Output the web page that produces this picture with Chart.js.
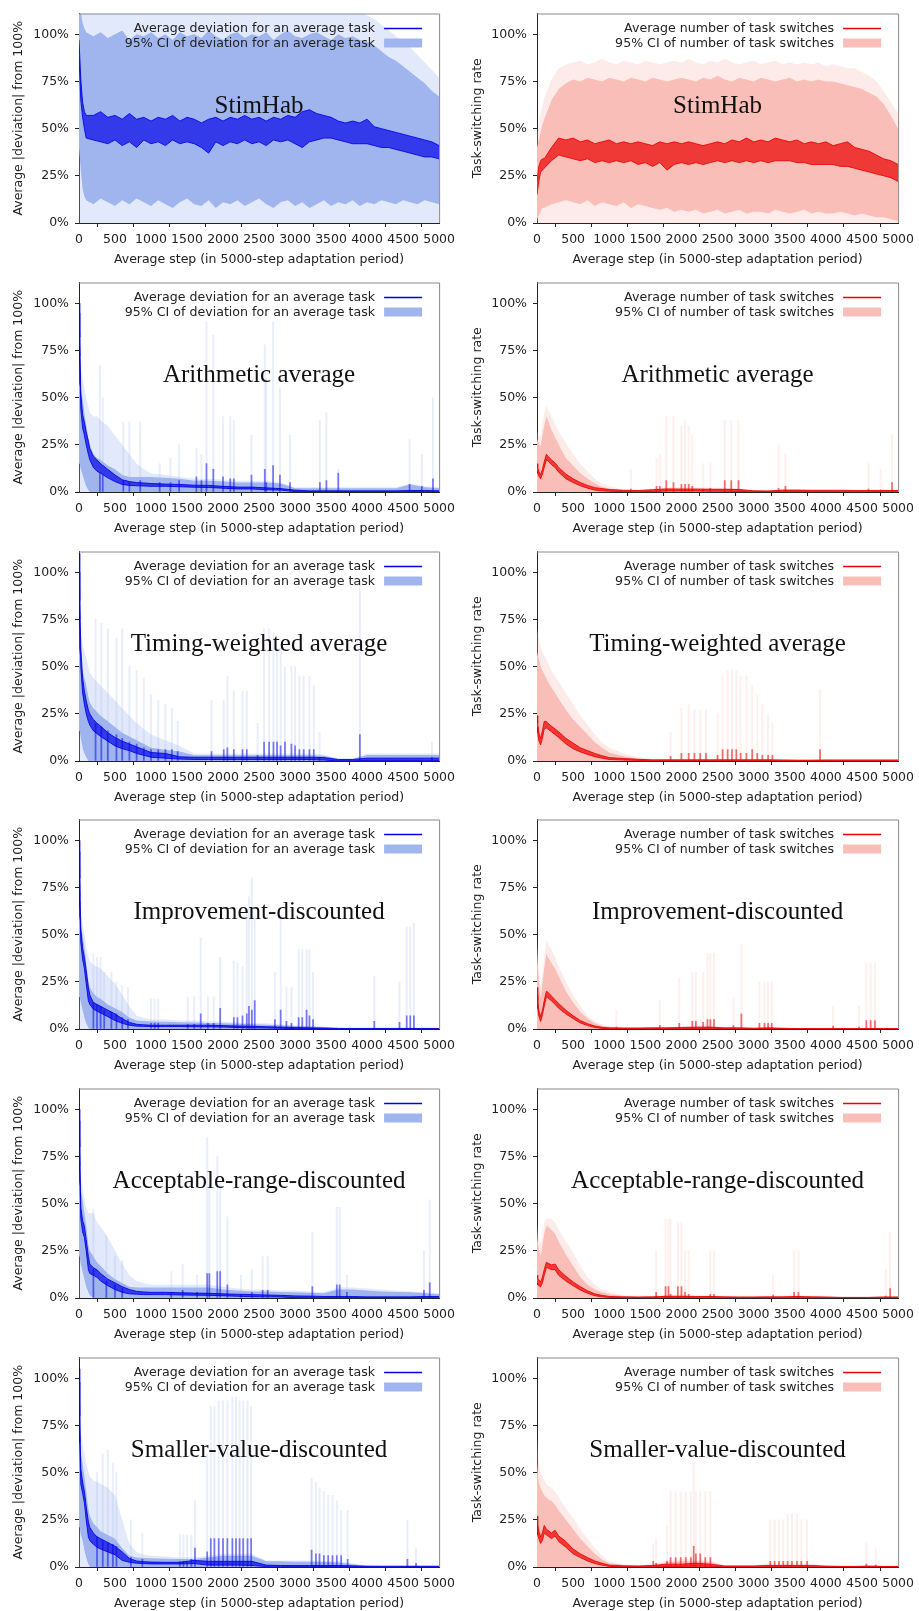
<!DOCTYPE html>
<html>
<head>
<meta charset="utf-8">
<script src="https://cdn.jsdelivr.net/npm/chart.js@4.4.0/dist/chart.umd.min.js"></script>
<style>
  body { margin: 0; background: #fff; }
  #fig { position: relative; width: 919px; height: 1611px; overflow: hidden; }
  #fig canvas { position: absolute; }
</style>
</head>
<body>
<div id="fig"></div>
<script>
// ---- axes ----
const xTickValues = [0, 500, 1000, 1500, 2000, 2500, 3000, 3500, 4000, 4500, 5000];
const yTickValues = [0, 25, 50, 75, 100];
const xTitle = "Average step (in 5000-step adaptation period)";
const devTitle = "Average |deviation| from 100%";
const swTitle = "Task-switching rate";
const devLegend = ["Average deviation for an average task", "95% CI of deviation for an average task"];
const swLegend = ["Average number of task switches", "95% CI of number of task switches"];
const panelTitles = ["StimHab", "Arithmetic average", "Timing-weighted average",
  "Improvement-discounted", "Acceptable-range-discounted", "Smaller-value-discounted"];

// x positions used by the StimHab rows (dense) and the other rows
const stepsDense = [0, 25, 50, 75, 100, 200, 300, 400, 500, 600, 700, 800, 900, 1000,
  1100, 1200, 1300, 1400, 1500, 1600, 1700, 1800, 1900, 2000, 2100, 2200, 2300, 2400, 2500,
  2600, 2700, 2800, 2900, 3000, 3100, 3200, 3300, 3400, 3500, 3600, 3700, 3800, 3900, 4000,
  4100, 4200, 4300, 4400, 4500, 4600, 4700, 4800, 4900, 5000];
const steps = [0, 10, 25, 50, 75, 100, 130, 150, 200, 250, 300, 400, 500, 600, 700, 800, 900, 1000,
  1200, 1400, 1600, 1800, 2000, 2200, 2400, 2600, 2800, 3000, 3200, 3400, 3600, 3800, 4000,
  4200, 4400, 4600, 4800, 5000];

// ---- StimHab, deviation ----
const stimDevMeanHi = [97, 76, 64, 59, 57, 57, 59, 56, 57, 55, 58, 55, 56, 54, 56, 55, 57, 54, 56, 55, 53, 55, 56, 54,
  56, 55, 57, 55, 56, 54, 56, 55, 57, 56, 59, 60, 58, 57, 56, 54, 53, 54, 53, 55, 51, 50, 49, 48, 47, 46, 45, 44, 43, 41];
const stimDevMeanLo = [88, 65, 56, 50, 45, 44, 43, 42, 44, 41, 43, 40, 44, 42, 43, 41, 44, 42, 43, 42, 40, 37, 43, 41,
  43, 42, 44, 42, 43, 41, 44, 43, 44, 42, 40, 43, 44, 45, 45, 44, 43, 42, 42, 42, 41, 40, 40, 39, 38, 37, 36, 35, 35, 34];
const stimDevCiHi = [112, 112, 106, 103, 101, 99, 101, 98, 100, 102, 97, 100, 99, 101, 98, 100, 97, 101, 99, 100, 98, 102,
  99, 97, 100, 101, 98, 100, 99, 101, 97, 100, 102, 99, 98, 100, 101, 99, 97, 100, 98, 99, 97, 96, 94, 91, 88, 86, 83, 80,
  77, 74, 70, 67];
const stimDevCiLo = [40, 28, 18, 14, 12, 10, 13, 11, 9, 12, 10, 13, 11, 9, 12, 10, 8, 11, 13, 10, 9, 12, 8, 11,
  10, 12, 9, 11, 13, 10, 8, 11, 12, 9, 11, 8, 10, 12, 9, 11, 10, 12, 9, 11, 10, 12, 11, 10, 12, 11, 10, 12, 11, 10];
const stimDevFade = [112, 112, 112, 112, 112, 112, 112, 112, 112, 112, 112, 112, 112, 112, 112, 112, 112, 112, 112, 112,
  112, 112, 112, 112, 112, 112, 112, 112, 112, 112, 112, 112, 112, 112, 112, 112, 112, 112, 112, 112, 112, 112, 112,
  110, 108, 105, 102, 99, 96, 93, 89, 85, 81, 77];

// ---- StimHab, task switching ----
const stimSwMeanHi = [22, 30, 33, 34, 34, 40, 45, 44, 45, 43, 44, 42, 43, 44, 42, 43, 42, 43, 42, 41, 43, 42, 43, 42,
  43, 42, 41, 42, 43, 42, 44, 43, 45, 43, 44, 43, 45, 44, 43, 44, 42, 43, 42, 43, 41, 42, 43, 40, 39, 38, 36, 34, 33, 31];
const stimSwMeanLo = [15, 22, 27, 28, 29, 33, 36, 35, 34, 33, 34, 32, 33, 32, 33, 32, 33, 31, 32, 30, 32, 28, 31, 32,
  31, 32, 31, 32, 33, 32, 33, 32, 33, 32, 33, 32, 33, 33, 33, 32, 32, 31, 31, 31, 31, 30, 30, 29, 28, 27, 26, 25, 24, 22];
const stimSwCiHi = [40, 44, 48, 52, 55, 65, 71, 74, 76, 75, 77, 76, 75, 77, 76, 75, 77, 76, 75, 77, 76, 75, 76, 77,
  76, 75, 77, 76, 78, 76, 75, 77, 76, 75, 77, 76, 75, 76, 77, 75, 76, 75, 76, 75, 75, 74, 73, 72, 71, 69, 67, 63, 57, 50];
const stimSwCiLo = [2, 4, 6, 8, 8, 10, 11, 12, 11, 10, 12, 9, 11, 10, 9, 11, 8, 10, 9, 8, 7, 8, 6, 7,
  6, 7, 5, 6, 7, 5, 6, 7, 5, 6, 6, 5, 7, 6, 5, 6, 7, 5, 6, 5, 5, 6, 5, 4, 5, 4, 3, 3, 2, 1];
const stimSwFade = [48, 52, 58, 62, 66, 76, 82, 84, 85, 86, 84, 85, 87, 85, 84, 86, 85, 84, 86, 85, 84, 85, 86, 85,
  87, 85, 84, 86, 85, 87, 85, 84, 85, 86, 84, 85, 86, 84, 85, 84, 85, 84, 85, 83, 84, 83, 82, 82, 80, 78, 75, 70, 64, 58];

// ---- Arithmetic average ----
const arithDevMeanHi = [100, 82, 52, 41, 37, 32, 27, 23, 19, 17, 15, 12, 9, 6.5, 5.5, 5, 4.8, 4.5,
  4.2, 4, 3.6, 3.5, 3, 2.6, 2.6, 2.2, 1.8, 1, 0.6, 0.6, 0.6, 0.6, 0.6, 0.6, 0.6, 0.8, 0.8, 0.6];
const arithDevMeanLo = [95, 72, 44, 34, 30, 25, 20, 17, 13, 11, 10, 7.5, 5.5, 4, 3.5, 3.3, 3.2, 3,
  3, 2.8, 2.5, 2.4, 2, 1.6, 1.6, 1.2, 1, 0.2, 0, 0, 0, 0, 0, 0, 0, 0.2, 0.2, 0];
const arithDevCiHi = [58, 56, 55, 50, 42, 35, 28, 25, 20, 18, 17, 14, 12, 9, 8, 8, 8, 8,
  7.5, 7, 6, 6, 5.5, 5, 5, 5, 4.5, 2, 2, 2, 2, 2, 2, 2, 2, 4, 2.5, 2];
const arithDevCiLo = [18, 15, 12, 9, 6, 3, 1, 0, 0, 0, 0, 0, 0, 0, 0, 0, 0, 0,
  0, 0, 0, 0, 0, 0, 0, 0, 0, 0, 0, 0, 0, 0, 0, 0, 0, 0, 0, 0];
const arithDevFade = [70, 68, 65, 60, 55, 50, 45, 42, 40, 40, 38, 35, 30, 25, 20, 15, 12, 10,
  9, 8, 7, 7, 6.5, 6, 6, 6, 5, 2.5, 2.5, 2.5, 2.5, 2.5, 2.5, 2.5, 2.5, 4.5, 3, 2.5];
const arithDevSpikeX = [290, 330, 615, 700, 850, 1120, 1270, 1390, 1630, 1700, 1770, 1865, 2000, 2100, 2150,
  2395, 2580, 2600, 2695, 2790, 2930, 3345, 3435, 3600, 4590, 4760, 4915];
const arithDevSpikeCi = [67, 50, 37, 37, 37, 15, 18, 25, 23, 20, 90, 83, 40, 40, 38, 30, 78, 60, 90, 55, 30,
  38, 42, 12, 28, 20, 50];
const arithDevSpikeMean = [10, 9, 6, 5, 6, 5, 5, 6, 8, 6, 15, 12, 8, 7, 7, 9, 12, 5, 14, 9, 5, 5, 6, 10, 4, 3, 7];

const arithSwMeanHi = [15, 13, 11, 9, 12, 16, 20, 19, 17, 15.5, 13, 9.5, 7, 5, 3.5, 2.3, 1.8, 1.3,
  0.9, 0.8, 1.2, 1.6, 1.5, 1.5, 1.4, 1.4, 1.3, 0.6, 0.5, 1, 1, 0.9, 0.9, 0.9, 0.8, 0.8, 0.8, 0.8];
const arithSwMeanLo = [11, 10, 8.5, 7, 9.5, 13, 17, 16.5, 14.5, 13, 10.5, 7, 5, 3.3, 2, 1, 0.6, 0.4,
  0.2, 0.1, 0.3, 0.5, 0.5, 0.5, 0.4, 0.4, 0.3, 0, 0, 0.2, 0.2, 0.2, 0.2, 0.1, 0.1, 0.1, 0.1, 0.1];
const arithSwCiHi = [28, 27, 26, 24, 30, 35, 40, 38, 33, 29, 25, 18, 14, 10, 7, 4.5, 2.8, 1.8,
  1, 0.8, 1.5, 2, 2, 2, 1.8, 1.8, 1.6, 0.8, 0.8, 1.2, 1.2, 1, 1, 1, 1, 1, 1, 1];
const arithSwFade = [32, 31, 30, 29, 36, 42, 46, 44, 40, 36, 32, 26, 20, 15, 11, 7, 4.5, 3,
  1.5, 1.2, 2, 2.5, 2.5, 2.5, 2.2, 2.2, 2, 1, 1, 1.5, 1.5, 1.2, 1.2, 1.2, 1.2, 1.2, 1.2, 1.2];
const arithSwSpikeX = [1300, 1655, 1700, 1790, 1890, 2000, 2050, 2100, 2150, 2300, 2400, 2600, 2690, 2790,
  3345, 3440, 4590, 4760, 4915];
const arithSwSpikeCi = [12, 18, 20, 40, 40, 35, 38, 35, 30, 15, 15, 38, 38, 38, 25, 20, 15, 12, 30];
const arithSwSpikeMean = [1.5, 3, 3, 6, 5, 4, 4, 4, 3, 1.5, 2, 6, 6, 6, 2, 3, 1.5, 1, 5];

// ---- Timing-weighted average ----
const timingDevMeanHi = [110, 85, 60, 44, 37, 32, 27, 25, 22, 20, 18.5, 15, 12.5, 10.5, 9, 7.5, 6, 4.5,
  4, 2.2, 2, 2, 2, 2, 2, 2, 2, 2, 2, 1.8, 0.8, 0.8, 1.5, 1.5, 1.5, 1.5, 1.5, 1.5];
const timingDevMeanLo = [100, 75, 50, 36, 30, 25, 21, 19, 16, 14.5, 13, 10.5, 8, 6.5, 5.5, 4, 3, 2,
  1.5, 1, 0.8, 0.8, 0.8, 0.8, 0.8, 0.8, 0.8, 0.8, 0.8, 0.5, 0, 0, 0.3, 0.3, 0.3, 0.3, 0.3, 0.3];
const timingDevCiHi = [60, 57, 53, 48, 44, 40, 34, 31, 28, 26, 24, 21, 18, 15, 13, 11, 9, 7,
  6, 5, 3, 3, 3, 3, 3, 3, 3, 3, 3, 2.8, 1, 1, 3.2, 3.2, 3.2, 3.2, 3.2, 3.2];
const timingDevCiLo = [20, 16, 12, 7, 4, 2, 0, 0, 0, 0, 0, 0, 0, 0, 0, 0, 0, 0,
  0, 0, 0, 0, 0, 0, 0, 0, 0, 0, 0, 0, 0, 0, 0, 0, 0, 0, 0, 0];
const timingDevFade = [75, 72, 68, 62, 58, 55, 50, 47, 44, 42, 40, 36, 32, 28, 24, 20, 17, 14,
  11, 8, 4, 4, 4, 4, 4, 4, 4, 4, 4, 3.5, 1.5, 1.5, 4, 4, 4, 4, 4, 4];
const timingDevSpikeX = [230, 310, 400, 520, 600, 700, 800, 900, 1000, 1100, 1200, 1290, 1370, 1840, 2010,
  2060, 2150, 2270, 2330, 2480, 2570, 2640, 2700, 2750, 2800, 2860, 2950, 3000, 3060, 3120, 3200, 3260,
  3340, 3900, 4900];
const timingDevSpikeCi = [75, 73, 70, 65, 70, 50, 48, 44, 35, 32, 30, 28, 21, 32, 32, 45, 37, 37, 37, 20,
  70, 70, 68, 60, 60, 50, 50, 50, 45, 45, 45, 40, 15, 95, 10];
const timingDevSpikeMean = [20, 18, 16, 14, 12, 10, 9, 7, 6, 6, 6, 6, 5, 5, 6, 7, 6, 6, 6, 3, 10, 10, 10, 10,
  8, 10, 9, 8, 6, 6, 6, 6, 2, 14, 2];

const timingSwMeanHi = [24, 20, 15, 12, 16, 21, 21, 20, 18.5, 17, 15.5, 12, 9.5, 7, 5.5, 4, 2.8, 1.8,
  1.3, 0.9, 0.6, 0.6, 0.6, 0.6, 0.6, 0.6, 0.6, 0.6, 0.6, 0.5, 0.4, 0.4, 0.5, 0.5, 0.5, 0.5, 0.5, 0.5];
const timingSwMeanLo = [18, 15, 11, 8.5, 12, 17, 17.5, 17, 15.5, 14, 12.5, 9, 6.5, 4.8, 3.5, 2.3, 1.5, 0.8,
  0.5, 0.3, 0.1, 0.1, 0.1, 0.1, 0.1, 0.1, 0.1, 0.1, 0.1, 0.1, 0, 0, 0.1, 0.1, 0.1, 0.1, 0.1, 0.1];
const timingSwCiHi = [58, 56, 54, 50, 48, 46, 44, 42, 39, 36, 33, 27, 22, 18, 14, 10, 7, 4.5,
  2.5, 1.2, 0.8, 0.8, 0.8, 0.8, 0.8, 0.8, 0.8, 0.8, 0.8, 0.8, 0.6, 0.6, 0.8, 0.8, 0.8, 0.8, 0.8, 0.8];
const timingSwFade = [70, 68, 65, 60, 58, 56, 54, 52, 48, 45, 42, 36, 30, 24, 19, 14, 10, 7,
  4, 2, 1, 1, 1, 1, 1, 1, 1, 1, 1, 1, 0.8, 0.8, 1, 1, 1, 1, 1, 1];
const timingSwSpikeX = [1850, 2000, 2100, 2180, 2260, 2340, 2500, 2570, 2640, 2700, 2760, 2820, 2900, 2980,
  3050, 3120, 3200, 3260, 3920];
const timingSwSpikeCi = [15, 28, 30, 27, 27, 27, 25, 45, 48, 48, 48, 45, 45, 40, 35, 30, 25, 20, 38];
const timingSwSpikeMean = [2.5, 4, 4, 4, 4, 4, 3, 6, 6, 6, 6, 4, 4, 6, 4, 3, 3, 3, 6];

// ---- Improvement-discounted ----
const imprDevMeanHi = [100, 80, 53, 43, 38, 31, 22, 18, 14, 13, 12, 10, 8, 5.5, 3.5, 2.5, 2.2, 2,
  2, 2, 2, 2, 1.8, 1.6, 1.4, 1.2, 1, 0.8, 0.6, 0.5, 0.3, 0.3, 0.3, 0.3, 0.3, 0.3, 0.3, 0.3];
const imprDevMeanLo = [94, 70, 46, 37, 32, 24, 15, 13, 10.5, 9.5, 8.5, 6.5, 4.5, 3, 2, 1.5, 1.4, 1.3,
  1.3, 1.3, 1.2, 1.2, 1, 0.8, 0.6, 0.5, 0.4, 0.2, 0, 0, 0, 0, 0, 0, 0, 0, 0, 0];
const imprDevCiHi = [60, 58, 55, 50, 43, 35, 26, 22, 19, 17, 16, 13, 11, 9, 6, 4.5, 4.2, 4,
  3.8, 3.6, 3.4, 3.2, 3, 2.8, 2.5, 2.2, 2, 1.6, 1.3, 1, 0.5, 0.4, 0.4, 0.4, 0.4, 0.4, 0.4, 0.3];
const imprDevCiLo = [20, 17, 14, 10, 6, 3, 0.5, 0, 0, 0, 0, 0, 0, 0, 0, 0, 0, 0,
  0, 0, 0, 0, 0, 0, 0, 0, 0, 0, 0, 0, 0, 0, 0, 0, 0, 0, 0, 0];
const imprDevFade = [66, 64, 60, 56, 50, 44, 38, 36, 34, 33, 32, 28, 24, 18, 12, 7, 6, 5,
  5, 4.5, 4.5, 4, 4, 3.5, 3, 3, 2.5, 2, 1.6, 1.2, 0.6, 0.5, 0.5, 0.5, 0.5, 0.5, 0.5, 0.4];
const imprDevSpikeX = [200, 250, 300, 350, 450, 520, 600, 680, 1000, 1050, 1100, 1510, 1600, 1690, 1790, 1870,
  1960, 2150, 2200, 2270, 2330, 2360, 2400, 2440, 2720, 2800, 2880, 2950, 3050, 3100, 3160, 3200, 3250,
  4100, 4450, 4550, 4600, 4650];
const imprDevSpikeCi = [40, 38, 38, 30, 30, 25, 23, 22, 16, 16, 16, 17, 17, 48, 17, 17, 38, 36, 35, 33, 63,
  70, 80, 60, 30, 60, 22, 22, 42, 42, 42, 42, 30, 28, 25, 54, 54, 56];
const imprDevSpikeMean = [14, 13, 12, 10, 9, 8, 6, 5, 3, 3, 3, 2.5, 2.5, 8, 3, 3, 11, 6, 6, 7, 8, 12, 10, 15,
  5, 10, 4, 3, 6, 6, 10, 7, 5, 4, 3.5, 7, 7, 7];

const imprSwMeanHi = [22, 15, 10, 6.5, 10, 15, 20, 19.5, 17.5, 15.5, 13.5, 10, 7, 4.5, 2.8, 1.6, 0.9, 0.6,
  0.5, 0.5, 0.6, 0.6, 0.8, 0.9, 0.9, 0.6, 0.6, 0.4, 0.6, 0.4, 0.2, 0.2, 0.2, 0.2, 0.2, 0.2, 0.2, 0.2];
const imprSwMeanLo = [18, 11, 7, 4, 7.5, 12, 17, 16.5, 15, 13, 11, 8, 5.5, 3.2, 1.8, 0.8, 0.3, 0.1,
  0.1, 0.1, 0.1, 0.1, 0.2, 0.2, 0.2, 0.1, 0.1, 0, 0.1, 0, 0, 0, 0, 0, 0, 0, 0, 0];
const imprSwCiHi = [42, 35, 25, 16, 24, 32, 40, 38, 35, 32, 28, 20, 14, 9, 5.5, 3, 1.6, 1,
  0.6, 0.6, 0.8, 0.8, 1, 1.5, 1.5, 0.8, 0.8, 0.5, 0.8, 0.5, 0.2, 0.2, 0.2, 0.2, 0.2, 0.2, 0.2, 0.2];
const imprSwFade = [48, 42, 32, 22, 30, 38, 47, 45, 42, 38, 33, 25, 18, 12, 7, 4, 2.5, 1.5,
  1, 1, 1, 1, 1.3, 2, 2, 1, 1, 0.6, 1, 0.6, 0.3, 0.3, 0.3, 0.3, 0.3, 0.3, 0.3, 0.3];
const imprSwSpikeX = [1100, 1700, 1970, 2150, 2200, 2300, 2360, 2400, 2450, 2720, 2830, 3080, 3150, 3200, 3250,
  4100, 4460, 4560, 4620, 4680];
const imprSwSpikeCi = [10, 15, 27, 30, 30, 30, 40, 40, 40, 16, 45, 25, 25, 25, 25, 12, 12, 35, 35, 35];
const imprSwSpikeMean = [1, 2, 3, 4, 4, 3.5, 5, 5, 5, 2, 8, 3, 3, 3, 3, 1.5, 1, 4.5, 4.5, 4.5];

// ---- Acceptable-range-discounted ----
const rangeDevMeanHi = [100, 80, 48, 41, 38, 31, 22, 18, 16, 15, 13, 10, 8, 6, 4.5, 3.5, 3.2, 3,
  3, 2.8, 2.6, 2.5, 2.2, 2, 1.8, 1.6, 1.4, 1.1, 1, 0.8, 0.8, 0.8, 0.6, 0.6, 0.6, 0.6, 0.8, 0.8];
const rangeDevMeanLo = [94, 70, 42, 35, 32, 25, 15, 13, 12, 11, 9, 6.5, 4.5, 3, 2.2, 2, 1.8, 1.8,
  1.8, 1.6, 1.5, 1.4, 1.2, 0.9, 0.7, 0.6, 0.5, 0.2, 0.1, 0, 0, 0, 0, 0, 0, 0, 0, 0];
const rangeDevCiHi = [62, 60, 57, 52, 45, 38, 28, 25, 22, 19, 17, 13, 10, 8, 6, 5.5, 5.5, 5.5,
  5.5, 5.5, 5.5, 5.5, 4.5, 4, 3.5, 3.5, 3.2, 3, 2.8, 2.5, 4.5, 4.5, 4, 3.5, 3.2, 3, 2.5, 2];
const rangeDevCiLo = [25, 22, 18, 14, 10, 6, 3, 1.5, 0, 0, 0, 0, 0, 0, 0, 0, 0, 0,
  0, 0, 0, 0, 0, 0, 0, 0, 0, 0, 0, 0, 0, 0, 0, 0, 0, 0, 0, 0];
const rangeDevFade = [68, 66, 63, 58, 52, 48, 45, 45, 45, 40, 38, 32, 25, 18, 12, 9, 8, 7,
  7, 7, 7, 7, 6, 5, 4.5, 4.5, 4, 4, 3.5, 3, 5.5, 5.5, 5, 4.5, 4, 3.5, 3, 2.5];
const rangeDevSpikeX = [200, 380, 500, 600, 1280, 1440, 1640, 1780, 1810, 1920, 1960, 2060, 2250, 2400, 2550,
  2620, 3240, 3580, 3620, 3720, 4790, 4870];
const rangeDevSpikeCi = [47, 33, 22, 20, 14, 18, 12, 85, 60, 75, 60, 43, 12, 15, 22, 22, 35, 48, 48, 12, 25, 52];
const rangeDevSpikeMean = [15, 9, 7, 5, 3, 4, 3, 13, 13, 14, 14, 7, 2, 3, 4, 4, 6, 7, 7, 3, 4, 8];

const rangeSwMeanHi = [12, 10.5, 9.5, 8.5, 11, 15, 19, 18.5, 17.5, 18, 15, 11.5, 8.5, 6, 3.8, 2.2, 1.4, 0.8,
  0.6, 0.5, 0.6, 0.9, 0.9, 0.8, 0.8, 0.6, 0.5, 0.5, 0.6, 0.6, 0.8, 0.6, 0.5, 0.3, 0.3, 0.3, 0.5, 0.5];
const rangeSwMeanLo = [8, 7, 6.5, 6, 8, 12, 16, 16, 15, 15, 12, 9, 6.5, 4.2, 2.5, 1.2, 0.6, 0.3,
  0.1, 0.1, 0.1, 0.2, 0.2, 0.1, 0.1, 0.1, 0.1, 0.1, 0.1, 0.1, 0.2, 0.1, 0.1, 0, 0, 0, 0.1, 0.1];
const rangeSwCiHi = [35, 30, 26, 22, 28, 34, 38, 38, 36, 34, 30, 23, 17, 11, 7, 4.5, 3, 2,
  1, 0.8, 0.8, 1.2, 1.2, 1, 1, 0.8, 0.8, 0.8, 0.8, 0.8, 1, 0.8, 0.8, 0.5, 0.5, 0.5, 0.8, 0.8];
const rangeSwFade = [40, 36, 32, 28, 34, 40, 42, 42, 42, 40, 36, 30, 24, 17, 11, 7, 4.5, 3,
  1.5, 1.2, 1.2, 1.8, 1.8, 1.5, 1.5, 1.2, 1.2, 1.2, 1.2, 1.2, 1.5, 1.2, 1.2, 0.8, 0.8, 0.8, 1.2, 1.2];
const rangeSwSpikeX = [1650, 1780, 1820, 1850, 1950, 2000, 2050, 2100, 2400, 2450, 3270, 3560, 3620, 4830, 4890];
const rangeSwSpikeCi = [25, 42, 42, 42, 40, 40, 25, 25, 25, 25, 12, 25, 25, 15, 35];
const rangeSwSpikeMean = [3, 6, 6, 2, 6, 6, 3, 2, 2, 2, 1.5, 3, 3, 1, 5];

// ---- Smaller-value-discounted ----
const smallDevMeanHi = [105, 80, 52, 45, 40, 32, 24, 21, 18, 16, 15, 13, 11, 8, 4.5, 3.2, 2.8, 2.6,
  2.5, 2.5, 3.5, 3, 3, 3, 3, 1, 0.8, 0.8, 0.8, 0.8, 0.8, 0.6, 0.4, 0.4, 0.4, 0.4, 0.4, 0.4];
const smallDevMeanLo = [98, 66, 44, 39, 34, 25, 16, 14, 12, 10.5, 9.5, 8, 6.5, 3.5, 2.5, 2, 1.8, 1.6,
  1.6, 1.6, 1.8, 1, 1, 1, 0.8, 0.2, 0.2, 0.2, 0.2, 0.2, 0.2, 0.1, 0, 0, 0, 0, 0, 0];
const smallDevCiHi = [72, 66, 60, 55, 48, 40, 31, 27, 23, 21, 19, 17, 15, 10, 6, 5, 4.8, 4.6,
  4.4, 4.2, 4.2, 5, 6, 6, 6, 3, 3, 2.8, 2.8, 2.6, 2.4, 1.5, 0.6, 0.5, 0.5, 0.5, 0.5, 0.5];
const smallDevCiLo = [25, 21, 17, 14, 9, 5, 1.5, 0, 0, 0, 0, 0, 0, 0, 0, 0, 0, 0,
  0, 0, 0, 0, 0, 0, 0, 0, 0, 0, 0, 0, 0, 0, 0, 0, 0, 0, 0, 0];
const smallDevFade = [78, 74, 70, 65, 60, 55, 50, 48, 46, 45, 44, 42, 38, 25, 12, 8, 6.5, 6,
  5.5, 5, 5, 6, 7, 7, 7, 3.5, 3.5, 3.5, 3.5, 3.2, 3, 2, 0.8, 0.6, 0.6, 0.6, 0.6, 0.6];
const smallDevSpikeX = [250, 330, 400, 470, 520, 720, 880, 1400, 1450, 1500, 1560, 1610, 1780, 1830, 1880, 1940,
  2000, 2060, 2130, 2180, 2230, 2280, 2340, 2390, 3230, 3290, 3340, 3400, 3460, 3520, 3580, 3640, 3730,
  4560, 4680];
const smallDevSpikeCi = [50, 60, 62, 55, 50, 25, 18, 17, 17, 17, 17, 35, 60, 85, 85, 88, 88, 88, 90, 90, 88,
  88, 88, 85, 47, 45, 42, 40, 38, 38, 35, 30, 30, 25, 10];
const smallDevSpikeMean = [16, 14, 13, 12, 11, 5, 4, 3, 3, 3, 4, 10, 8, 15, 15, 15, 15, 15, 15, 15, 15, 15, 15,
  15, 9, 7, 7, 6, 6, 6, 6, 6, 4, 4, 2];

const smallSwMeanHi = [27, 22, 19, 16, 18, 22, 20, 19.5, 18, 19.5, 16.5, 13.5, 9.5, 7, 5, 3.2, 2, 1,
  0.6, 0.5, 0.8, 1.5, 1.5, 2, 1.5, 0.5, 0.5, 0.5, 0.8, 0.8, 0.8, 0.8, 0.4, 0.3, 0.3, 0.5, 0.3, 0.3];
const smallSwMeanLo = [22, 17, 15, 12.5, 14, 18, 17, 16.5, 15, 16.5, 13.5, 10.5, 7, 5, 3.2, 1.8, 1, 0.3,
  0.1, 0.1, 0.1, 0.3, 0.3, 0.4, 0.3, 0, 0, 0, 0.1, 0.1, 0.1, 0.1, 0, 0, 0, 0, 0, 0];
const smallSwCiHi = [55, 50, 45, 42, 40, 38, 37, 36, 35, 33, 30, 25, 20, 15, 11, 7, 4, 2,
  1, 0.8, 1, 2.5, 3, 3, 2.5, 0.8, 0.8, 0.8, 1.2, 1.2, 1.2, 1.2, 0.8, 0.5, 0.5, 0.5, 0.5, 0.5];
const smallSwFade = [70, 62, 55, 50, 48, 46, 44, 43, 42, 40, 37, 31, 26, 20, 15, 10, 6, 3,
  1.5, 1.2, 1.5, 3.5, 4, 4, 3.5, 1.2, 1.2, 1.2, 1.8, 1.8, 1.8, 1.8, 1.2, 0.8, 0.8, 0.8, 0.8, 0.8];
const smallSwSpikeX = [1610, 1650, 1800, 1850, 1920, 1990, 2060, 2130, 2170, 2200, 2260, 2330, 2400, 3230, 3290,
  3350, 3410, 3470, 3530, 3600, 3660, 3740, 4560, 4690];
const smallSwSpikeCi = [12, 15, 22, 40, 40, 40, 40, 40, 55, 40, 40, 40, 40, 25, 25, 25, 25, 28, 28, 28, 25, 25, 13, 10];
const smallSwSpikeMean = [3, 2, 3, 5, 5, 5, 5, 5, 11, 7, 7, 5, 5, 3, 3, 3, 3, 3, 3, 3, 3, 3, 1.5, 1];

// colour sets for the two columns
const palette = {
  dev: { line: "#0000e6", band: "rgba(0,0,230,0.68)", edge: "rgba(0,0,225,0.85)", ci: "rgb(160,181,238)",
         fade: "rgba(160,181,238,0.3)", spikeCi: "rgba(150,172,236,0.2)", spikeMean: "rgba(0,0,230,0.5)" },
  sw:  { line: "#ee0000", band: "rgba(235,0,0,0.7)", edge: "rgba(235,0,0,0.85)", ci: "rgb(249,190,184)",
         fade: "rgba(249,190,184,0.3)", spikeCi: "rgba(247,178,172,0.2)", spikeMean: "rgba(235,0,0,0.55)" }
};

// one row = [deviation panel, switching panel]
const rows = [
  [{ xs: stepsDense, mHi: stimDevMeanHi, mLo: stimDevMeanLo, ciHi: stimDevCiHi, ciLo: stimDevCiLo, fade: stimDevFade, sx: [], sci: [], sm: [] },
   { xs: stepsDense, mHi: stimSwMeanHi, mLo: stimSwMeanLo, ciHi: stimSwCiHi, ciLo: stimSwCiLo, fade: stimSwFade, sx: [], sci: [], sm: [] }],
  [{ xs: steps, mHi: arithDevMeanHi, mLo: arithDevMeanLo, ciHi: arithDevCiHi, ciLo: arithDevCiLo, fade: arithDevFade, sx: arithDevSpikeX, sci: arithDevSpikeCi, sm: arithDevSpikeMean },
   { xs: steps, mHi: arithSwMeanHi, mLo: arithSwMeanLo, ciHi: arithSwCiHi, fade: arithSwFade, sx: arithSwSpikeX, sci: arithSwSpikeCi, sm: arithSwSpikeMean }],
  [{ xs: steps, mHi: timingDevMeanHi, mLo: timingDevMeanLo, ciHi: timingDevCiHi, ciLo: timingDevCiLo, fade: timingDevFade, sx: timingDevSpikeX, sci: timingDevSpikeCi, sm: timingDevSpikeMean },
   { xs: steps, mHi: timingSwMeanHi, mLo: timingSwMeanLo, ciHi: timingSwCiHi, fade: timingSwFade, sx: timingSwSpikeX, sci: timingSwSpikeCi, sm: timingSwSpikeMean }],
  [{ xs: steps, mHi: imprDevMeanHi, mLo: imprDevMeanLo, ciHi: imprDevCiHi, ciLo: imprDevCiLo, fade: imprDevFade, sx: imprDevSpikeX, sci: imprDevSpikeCi, sm: imprDevSpikeMean },
   { xs: steps, mHi: imprSwMeanHi, mLo: imprSwMeanLo, ciHi: imprSwCiHi, fade: imprSwFade, sx: imprSwSpikeX, sci: imprSwSpikeCi, sm: imprSwSpikeMean }],
  [{ xs: steps, mHi: rangeDevMeanHi, mLo: rangeDevMeanLo, ciHi: rangeDevCiHi, ciLo: rangeDevCiLo, fade: rangeDevFade, sx: rangeDevSpikeX, sci: rangeDevSpikeCi, sm: rangeDevSpikeMean },
   { xs: steps, mHi: rangeSwMeanHi, mLo: rangeSwMeanLo, ciHi: rangeSwCiHi, fade: rangeSwFade, sx: rangeSwSpikeX, sci: rangeSwSpikeCi, sm: rangeSwSpikeMean }],
  [{ xs: steps, mHi: smallDevMeanHi, mLo: smallDevMeanLo, ciHi: smallDevCiHi, ciLo: smallDevCiLo, fade: smallDevFade, sx: smallDevSpikeX, sci: smallDevSpikeCi, sm: smallDevSpikeMean },
   { xs: steps, mHi: smallSwMeanHi, mLo: smallSwMeanLo, ciHi: smallSwCiHi, fade: smallSwFade, sx: smallSwSpikeX, sci: smallSwSpikeCi, sm: smallSwSpikeMean }]
];

const pts = (xs, ys) => xs.map((x, i) => ({ x: x, y: ys[i] }));
const axisFont = { family: "DejaVu Sans", size: 12.5 };

// top/right frame, legend inside the plot and the method name
const decor = {
  id: "decor",
  afterDraw(chart, args, o) {
    const { ctx, chartArea: a } = chart;
    ctx.save();
    ctx.strokeStyle = "#8a8a8a";
    ctx.lineWidth = 1;
    ctx.beginPath();
    ctx.moveTo(a.left, a.top + 0.5);
    ctx.lineTo(a.right + 0.5, a.top + 0.5);
    ctx.lineTo(a.right + 0.5, a.bottom);
    ctx.stroke();

    const tx = a.right - 64, sx = a.right - 55, ex = a.right - 17;
    ctx.font = '12.6px "DejaVu Sans"';
    ctx.fillStyle = "#222";
    ctx.textAlign = "right";
    ctx.textBaseline = "middle";
    ctx.fillText(o.labels[0], tx, a.top + 15);
    ctx.fillText(o.labels[1], tx, a.top + 30);
    ctx.strokeStyle = o.colors.line;
    ctx.lineWidth = 1.5;
    ctx.beginPath();
    ctx.moveTo(sx, a.top + 15);
    ctx.lineTo(ex, a.top + 15);
    ctx.stroke();
    ctx.fillStyle = o.colors.ci;
    ctx.fillRect(sx, a.top + 25, ex - sx, 9);

    ctx.font = '25px "Liberation Serif"';
    ctx.fillStyle = "#111";
    ctx.textAlign = "center";
    ctx.fillText(o.title, (a.left + a.right) / 2, a.top + 93);
    ctx.restore();
  }
};

function makePanel(p, row, col) {
  const kind = col === 0 ? "dev" : "sw";
  const c = palette[kind];
  const canvas = document.createElement("canvas");
  canvas.width = 460;
  canvas.height = 269;
  canvas.style.left = (col * 459) + "px";
  canvas.style.top = Math.round(row * 268.75) + "px";
  document.getElementById("fig").appendChild(canvas);

  // first dataset is painted last (on top)
  const datasets = [
    { type: "bar", data: pts(p.sx, p.sm), backgroundColor: c.spikeMean, barThickness: 1.1, grouped: false },
    { data: pts(p.xs, p.mHi), borderColor: c.edge, borderWidth: 1, backgroundColor: c.band, fill: "+1" },
    { data: pts(p.xs, p.mLo), borderColor: c.edge, borderWidth: 1 },
    { type: "bar", data: pts(p.sx, p.sci), backgroundColor: c.spikeCi, barThickness: 1.3, grouped: false },
    { data: pts(p.xs, p.ciHi), borderWidth: 0, backgroundColor: c.ci, fill: p.ciLo ? "+1" : "origin" }
  ];
  if (p.ciLo) datasets.push({ data: pts(p.xs, p.ciLo), borderWidth: 0 });
  datasets.push({ data: pts(p.xs, p.fade), borderWidth: 0, backgroundColor: c.fade, fill: "origin" });

  new Chart(canvas, {
    type: "line",
    data: { datasets: datasets },
    options: {
      responsive: false,
      animation: false,
      events: [],
      elements: { point: { radius: 0 }, line: { tension: 0 } },
      layout: { padding: { top: 7, right: 20, left: 0, bottom: 0 } },
      plugins: {
        legend: { display: false },
        tooltip: { enabled: false },
        decor: { labels: kind === "dev" ? devLegend : swLegend, colors: c, title: panelTitles[row] }
      },
      scales: {
        x: {
          type: "linear", min: 0, max: 5000, offset: false,
          afterBuildTicks: s => { s.ticks = xTickValues.map(v => ({ value: v })); },
          afterFit: s => { s.height = 46; },
          ticks: { callback: v => String(v), font: axisFont, color: "#222", padding: 5, maxRotation: 0, autoSkip: false },
          grid: { drawOnChartArea: false, tickLength: 4, color: "#222" },
          border: { color: "#222" },
          title: { display: true, text: xTitle, font: axisFont, color: "#222", padding: { top: 0, bottom: 2 } }
        },
        y: {
          min: 0, max: 111,
          afterBuildTicks: s => { s.ticks = yTickValues.map(v => ({ value: v })); },
          afterFit: s => { s.width = col === 0 ? 79 : 78; },
          ticks: { callback: v => v + "%", font: axisFont, color: "#222", padding: 6 },
          grid: { drawOnChartArea: false, tickLength: 4, color: "#222" },
          border: { color: "#222" },
          title: { display: true, text: kind === "dev" ? devTitle : swTitle, font: axisFont, color: "#222", padding: { top: 11, bottom: 0 } }
        }
      }
    },
    plugins: [decor]
  });
}

rows.forEach((pair, r) => pair.forEach((p, c) => makePanel(p, r, c)));
</script>
</body>
</html>
